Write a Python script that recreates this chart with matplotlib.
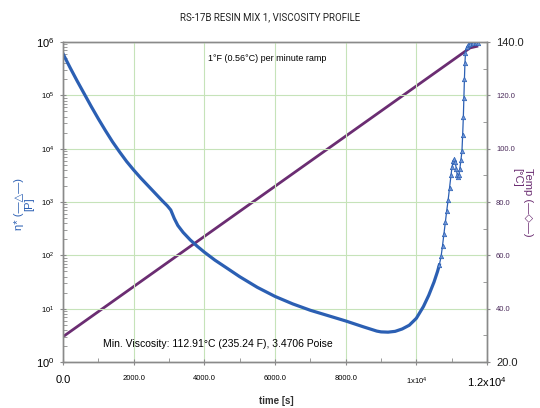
import numpy as np
import matplotlib
matplotlib.use("Agg")
import matplotlib.pyplot as plt
from matplotlib.ticker import FixedLocator, MultipleLocator, LogLocator, NullFormatter

plt.rcParams['font.family'] = ['Liberation Sans', 'DejaVu Sans']

# viscosity readings: time [s], log10(eta* [P])
t_visc = [0, 200, 400, 600, 800, 1000, 1200, 1400, 1600, 1800, 2000, 2200, 2400,
          2600, 2800, 2950, 3050, 3150, 3250, 3400, 3600, 3800, 4000, 4300, 4640,
          5000, 5500, 6000, 6500, 7000, 7500, 8000, 8500, 8880, 9000, 9200, 9400,
          9600, 9800, 10000, 10200, 10350, 10500, 10600, 10650, 10700, 10740,
          10780, 10820, 10860, 10900, 10940, 10980, 11010, 11040, 11070, 11100,
          11130, 11160, 11180, 11200, 11230, 11260, 11290, 11310, 11330, 11345,
          11360, 11375, 11390, 11420, 11460, 11520, 11600, 11700, 11750]
log_visc = [5.78, 5.52, 5.27, 5.03, 4.79, 4.56, 4.34, 4.13, 3.94, 3.76, 3.60, 3.45, 3.31,
            3.17, 3.03, 2.93, 2.85, 2.69, 2.56, 2.43, 2.29, 2.17, 2.06, 1.91, 1.76,
            1.60, 1.40, 1.23, 1.09, 0.97, 0.87, 0.77, 0.66, 0.58, 0.565, 0.56, 0.575,
            0.62, 0.69, 0.82, 1.04, 1.25, 1.50, 1.70, 1.82, 1.98, 2.18,
            2.40, 2.62, 2.84, 3.04, 3.27, 3.50, 3.66, 3.76, 3.80, 3.75,
            3.62, 3.50, 3.47, 3.50, 3.62, 3.78, 3.95, 4.25, 4.60, 4.95,
            5.30, 5.60, 5.80, 5.90, 5.94, 5.97, 5.98, 5.98, 5.98]

# temperature readings: time [s], temp [C]
t_temp = [0, 11520, 11750]
temp = [29.5, 137.8, 138.5]

x_ticks = [0, 2000, 4000, 6000, 8000, 10000, 12000]
x_labels = ['0.0', '2000.0', '4000.0', '6000.0', '8000.0',
            r'$\mathregular{1x10^{4}}$', r'$\mathregular{1.2x10^{4}}$']
y_ticks = [1, 10, 100, 1000, 1e4, 1e5, 1e6]
y_labels = [r'$\mathregular{10^{%d}}$' % k for k in range(7)]
t_ticks = [20, 40, 60, 80, 100, 120, 140]
t_labels = ['%.1f' % v for v in t_ticks]

blue = '#2b5fb3'
purple = '#6b2d72'
grid_c = '#c6e3b9'
spine_c = '#8a8a8a'

fig = plt.figure(figsize=(5.4, 4.08), dpi=100)
ax = fig.add_axes([0.1167, 0.1127, 0.7852, 0.7843])
ax2 = ax.twinx()

ax2.plot(t_temp, temp, color=purple, lw=2.0, solid_capstyle='butt')

eta = 10 ** np.array(log_visc)
t_arr = np.array(t_visc)
split = t_visc.index(10650)
ax.plot(t_arr[:split + 1], eta[:split + 1], color=blue, lw=2.3, solid_joinstyle='round')
ax.plot(t_arr[split:], eta[split:], color=blue, lw=0.9, marker='^', ms=3.2,
        markerfacecolor='#6f95d6', markeredgecolor=blue, markeredgewidth=0.5)

ax.set_zorder(ax2.zorder + 1)
ax.patch.set_visible(False)

ax.set_yscale('log')
ax.set_xlim(0, 12000)
ax.set_ylim(1, 1e6)
ax2.set_ylim(20, 140)

ax.xaxis.set_major_locator(FixedLocator(x_ticks))
ax.set_xticklabels(x_labels)
ax.xaxis.set_minor_locator(MultipleLocator(1000))
ax.yaxis.set_major_locator(FixedLocator(y_ticks))
ax.set_yticklabels(y_labels)
ax.yaxis.set_minor_locator(LogLocator(base=10, subs=np.arange(2, 10)))
ax.yaxis.set_minor_formatter(NullFormatter())
ax2.yaxis.set_major_locator(FixedLocator(t_ticks))
ax2.set_yticklabels(t_labels)
ax2.yaxis.set_minor_locator(MultipleLocator(10))

for a in (ax, ax2):
    for s in a.spines.values():
        s.set_color(spine_c)
        s.set_linewidth(1.0)
    a.tick_params(which='major', direction='inout', length=5, width=0.8, color=spine_c)
    a.tick_params(which='minor', direction='in', length=3, width=0.6, color=spine_c)

ax.tick_params(axis='x', which='major', pad=7, labelsize=5.5)
ax.tick_params(axis='y', which='major', pad=4, labelsize=5.5)
ax2.tick_params(axis='y', which='major', pad=4, labelsize=5.5, labelcolor='#4a2a5a')

for lbl in (ax.get_xticklabels()[0], ax.get_xticklabels()[-1]):
    lbl.set_fontsize(8)
for lbl in (ax.get_yticklabels()[0], ax.get_yticklabels()[-1]):
    lbl.set_fontsize(8)
for lbl in (ax2.get_yticklabels()[0], ax2.get_yticklabels()[-1]):
    lbl.set_fontsize(8)
    lbl.set_color('#222222')

ax.grid(True, which='major', axis='both', color=grid_c, lw=0.8)
ax.set_axisbelow(True)

fig.text(0.5, 0.958, 'RS-17B RESIN MIX 1, VISCOSITY PROFILE', ha='center', va='center',
         fontsize=7, family=['Liberation Sans Narrow', 'Roboto', 'DejaVu Sans'], color='#222222')
ax.text(0.481, 0.95, '1°F (0.56°C) per minute ramp', transform=ax.transAxes,
        ha='center', va='center', fontsize=6.5)
ax.text(0.094, 0.056, 'Min. Viscosity: 112.91°C (235.24 F), 3.4706 Poise',
        transform=ax.transAxes, ha='left', va='center', fontsize=7.5)

fig.text(0.511, 0.018, 'time [s]', ha='center', va='center', fontsize=7, fontweight='bold',
         color='#333333')
fig.text(0.045, 0.5, 'η* (—△—)\n[P]', rotation=90, ha='center', va='center',
         fontsize=8, color=blue, linespacing=1.1, family=['Liberation Sans', 'DejaVu Sans'])
fig.text(0.968, 0.505, 'Temp (—◇—)\n[°C]', rotation=270, ha='center', va='center',
         multialignment='left', fontsize=8, color=purple, linespacing=1.1,
         family=['Liberation Sans', 'DejaVu Sans'])

fig.savefig('out.png', dpi=100)
